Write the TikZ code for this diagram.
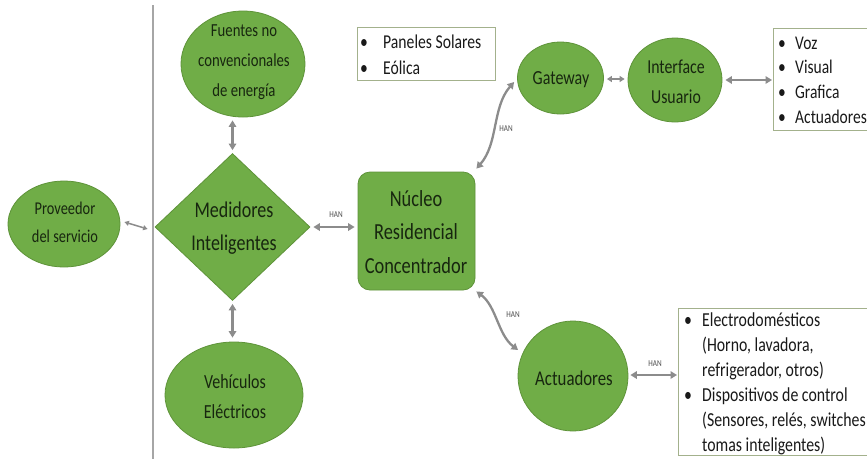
\documentclass[tikz,border=0pt]{standalone}
\usepackage{fontspec}
\setmainfont{Carlito}[FakeStretch=0.8]
\usetikzlibrary{shapes.geometric,arrows.meta}

\definecolor{leaf}{HTML}{70AD47}
\definecolor{leafedge}{HTML}{5E9339}
\definecolor{inktext}{HTML}{17260F}
\definecolor{linkgray}{HTML}{8C8C8C}
\definecolor{boxedge}{HTML}{A3B18C}
\definecolor{hantext}{HTML}{4D4D4D}
\definecolor{divgray}{HTML}{A6A6A6}

\tikzset{
  greenshape/.style={fill=leaf, draw=leafedge, line width=0.8pt, inner sep=0pt},
  oval/.style={greenshape, ellipse},
  lbl/.style={align=center, text=inktext, inner sep=0pt},
  listbox/.style={draw=boxedge, line width=1pt, fill=white, inner sep=0pt, anchor=north west},
  listtext/.style={inner sep=0pt, anchor=base west, text=black!90},
  link/.style={draw=linkgray, line width=2.3pt,
    {Triangle[length=6.5pt,width=7.5pt]}-{Triangle[length=6.5pt,width=7.5pt]}},
  shortlink/.style={draw=linkgray, line width=1.8pt,
    {Triangle[length=5pt,width=6pt]}-{Triangle[length=5pt,width=6pt]}},
  thinlink/.style={draw=linkgray, line width=1.5pt,
    {Triangle[length=4.5pt,width=5pt]}-{Triangle[length=4.5pt,width=5pt]}},
  hanlabel/.style={font=\fontsize{9}{10}\selectfont, text=hantext, inner sep=0pt},
}

\begin{document}
\begin{tikzpicture}[x=1pt,y=-1pt]
\useasboundingbox (0,0) rectangle (867,459);
\fill[white] (0,0) rectangle (867,459);
\clip (0,0) rectangle (867,459);

% divider between the provider and the home side
\draw[divgray, line width=1.2pt] (153,5) -- (153,459);

% --- shapes ---
\node[oval, minimum width=112pt, minimum height=86pt] (prov) at (64,224) {};
\node[lbl, font=\fontsize{18}{28}\selectfont] (provtxt) at (65,222) {Proveedor\\del servicio};

\node[oval, minimum width=124pt, minimum height=106pt] (fuentes) at (243,64) {};
\node[lbl, font=\fontsize{18.4}{30}\selectfont] (fuentestxt) at (244,62) {Fuentes no\\convencionales\\de energía};

\node[greenshape, diamond, minimum width=155pt, minimum height=147pt] (med) at (232.5,227) {};
\node[lbl, font=\fontsize{22.5}{33}\selectfont] (medtxt) at (234,228) {Medidores\\Inteligentes};

\node[oval, minimum width=138pt, minimum height=106pt] (veh) at (234,395) {};
\node[lbl, font=\fontsize{20}{30}\selectfont] (vehtxt) at (235,397) {Vehículos\\Eléctricos};

\node[greenshape, rectangle, rounded corners=12pt, minimum width=117pt, minimum height=118pt] (nucleo) at (416.5,231) {};
\node[lbl, font=\fontsize{23}{33.5}\selectfont] (nucleotxt) at (416,232) {Núcleo\\Residencial\\Concentrador};

\node[oval, minimum width=86pt, minimum height=72pt] (gateway) at (560.5,78) {};
\node[lbl, font=\fontsize{20}{24}\selectfont] (gatewaytxt) at (561,80) {Gateway};

\node[oval, minimum width=94pt, minimum height=84pt] (iface) at (675,80) {};
\node[lbl, font=\fontsize{19.8}{30}\selectfont] (ifacetxt) at (676,82) {Interface\\Usuario};

\node[greenshape, circle, minimum size=110pt] (act) at (573,376) {};
\node[lbl, font=\fontsize{21}{24}\selectfont] (acttxt) at (574,378) {Actuadores};

% --- bullet lists ---
\node[listbox, minimum width=138pt, minimum height=53pt] (paneles) at (357,27) {};
\node[listtext, font=\fontsize{19.6}{26}\selectfont] (panelestxt) at (360,48)
  {\begin{tabular}[t]{@{}p{23pt}@{}l@{}}\textbullet & Paneles Solares\\ \textbullet & Eólica\end{tabular}};

\node[listbox, minimum width=130pt, minimum height=102pt] (voz) at (773,28) {};
\node[listtext, font=\fontsize{19.4}{24.7}\selectfont] (voztxt) at (778,49)
  {\begin{tabular}[t]{@{}p{17pt}@{}l@{}}\textbullet & Voz\\ \textbullet & Visual\\ \textbullet & Grafica\\ \textbullet & Actuadores\end{tabular}};

\node[listbox, minimum width=220pt, minimum height=147pt] (electro) at (678,308) {};
\node[listtext, font=\fontsize{19.8}{25}\selectfont] (electrotxt) at (684,326)
  {\begin{tabular}[t]{@{}p{18pt}@{}l@{}}\textbullet & Electrodomésticos\\ & (Horno, lavadora,\\ & refrigerador, otros)\\ \textbullet & Dispositivos de control\\ & (Sensores, relés, switches\\ & tomas inteligentes)\end{tabular}};

% --- helper points on straight links ---
\coordinate (fuentesfoot) at (fuentes.south -| med.north);
\coordinate (vehtop) at (veh.north -| med.south);
\coordinate (nucleoleft) at (nucleo.west |- med.east);
\coordinate (vozleft) at (iface.east -| voz.west);
\coordinate (electroleft) at (act.east -| electro.west);

% --- connectors ---
\draw[thinlink] ([shift={(4,-2)}]prov.east) -- ([shift={(-7,2)}]med.west);
\draw[link] ([shift={(0,3)}]fuentesfoot) -- ([shift={(0,-3)}]med.north);
\draw[link] ([shift={(0,3)}]med.south) -- ([shift={(0,-4)}]vehtop);
\draw[link] ([shift={(3,0)}]med.east) -- ([shift={(-3,0)}]nucleoleft);
\draw[shortlink] ([shift={(3,1)}]gateway.east) -- ([shift={(-3,-1)}]iface.west);
\draw[link] ([shift={(3,0)}]iface.east) -- ([shift={(-1,0)}]vozleft);
\draw[link] ([shift={(2,-1)}]act.east) -- ([shift={(-1,-1)}]electroleft);

\draw[link] ([shift={(1,-3)}]nucleo.north east) .. controls +(22,-25) and +(-22,25) .. ([shift={(-3,4)}]gateway.west);
\draw[link] ([shift={(1,1)}]nucleo.south east) .. controls +(20,15) and +(-20,-15) .. ([shift={(-6,0)}]act.152);

% --- link labels ---
\node[hanlabel] (han1) at (336,215) {HAN};
\node[hanlabel] (han2) at (506,129) {HAN};
\node[hanlabel] (han3) at (513,315) {HAN};
\node[hanlabel] (han4) at (655,364) {HAN};
\end{tikzpicture}
\end{document}
